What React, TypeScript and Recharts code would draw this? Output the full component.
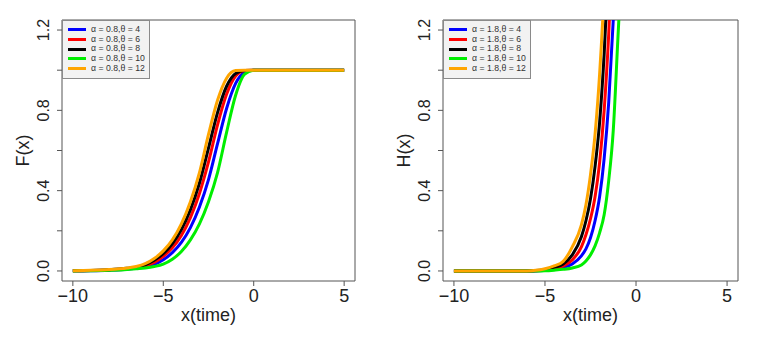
import React from "react";
import { LineChart, Line, XAxis, YAxis, ReferenceArea, Label } from "recharts";

// ---------- data ----------
const xLeft = [-10, -9, -8, -7, -6.5, -6, -5.5, -5, -4.5, -4, -3.5, -3, -2.5, -2, -1.5, -1, -0.5, 0, 1, 2, 3, 4, 5];
const fTheta4 = [0.0005, 0.0015, 0.004, 0.009, 0.014, 0.02, 0.033, 0.056, 0.091, 0.142, 0.216, 0.319, 0.455, 0.634, 0.809, 0.934, 0.989, 1, 1, 1, 1, 1, 1];
const fTheta6 = [0.0007, 0.002, 0.005, 0.011, 0.017, 0.026, 0.043, 0.073, 0.115, 0.177, 0.266, 0.386, 0.543, 0.728, 0.88, 0.971, 0.9985, 1, 1, 1, 1, 1, 1];
const fTheta8 = [0.001, 0.0025, 0.006, 0.013, 0.019, 0.031, 0.053, 0.086, 0.135, 0.206, 0.305, 0.438, 0.612, 0.789, 0.92, 0.984, 0.999, 1, 1, 1, 1, 1, 1];
const fTheta10 = [0.0003, 0.001, 0.003, 0.007, 0.011, 0.015, 0.022, 0.034, 0.058, 0.097, 0.155, 0.235, 0.345, 0.49, 0.69, 0.875, 0.98, 1, 1, 1, 1, 1, 1];
const fTheta12 = [0.001, 0.003, 0.007, 0.015, 0.022, 0.036, 0.062, 0.1, 0.155, 0.235, 0.345, 0.49, 0.68, 0.85, 0.96, 0.998, 1, 1, 1, 1, 1, 1, 1];

const xRight = [-10, -9, -8, -7, -6, -5.5, -5, -4.5, -4, -3.5, -3, -2.75, -2.5, -2.25, -2, -1.75, -1.5, -1.25, -1, -0.75];
const hTheta4 = [0, 0, 0, 0, 0, 0, 0.003, 0.008, 0.017, 0.035, 0.075, 0.11, 0.165, 0.25, 0.37, 0.56, 0.84, 1.25, 1.8, null];
const hTheta6 = [0, 0, 0, 0, 0, 0.001, 0.005, 0.012, 0.025, 0.055, 0.12, 0.18, 0.26, 0.37, 0.54, 0.8, 1.18, 1.7, null, null];
const hTheta8 = [0, 0, 0, 0, 0, 0.002, 0.008, 0.018, 0.035, 0.08, 0.17, 0.25, 0.36, 0.52, 0.74, 1.08, 1.55, null, null, null];
const hTheta10 = [0, 0, 0, 0, 0, 0, 0.001, 0.004, 0.008, 0.015, 0.03, 0.05, 0.08, 0.125, 0.19, 0.28, 0.45, 0.7, 1.15, 1.6];
const hTheta12 = [0, 0, 0, 0, 0, 0.003, 0.011, 0.025, 0.048, 0.12, 0.23, 0.33, 0.48, 0.68, 0.98, 1.4, 2.0, null, null, null];

const thetas = [4, 6, 8, 10, 12];
const colors = ["#0000ff", "#ff0000", "#000000", "#00ee00", "#ffa500"];
const xTicks = [-10, -5, 0, 5];
const yTicks = [0, 0.2, 0.4, 0.6, 0.8, 1.0, 1.2];
const yLabeled = [0, 0.4, 0.8, 1.2];
const xDomain = [-10.6, 5.6];
const yDomain = [-0.05, 1.25];

const leftSeries = [fTheta4, fTheta6, fTheta8, fTheta10, fTheta12];
const rightSeries = [hTheta4, hTheta6, hTheta8, hTheta10, hTheta12];

const buildRows = (xs: number[], series: (number | null)[][]) =>
  xs.map((x, i) => {
    const row: any = { x };
    series.forEach((s, k) => {
      row["t" + thetas[k]] = s[i];
    });
    return row;
  });

const leftData = buildRows(xLeft, leftSeries);
const rightData = buildRows(xRight, rightSeries);

const FONT = "'Liberation Sans', Arial, sans-serif";
const AXIS_GRAY = "#555555";

const fmtX = (v: number) => (v < 0 ? "\u2212" + Math.abs(v) : String(v));

const YTick = (props: any) => {
  const { x, y, payload } = props;
  const v = payload.value;
  if (!yLabeled.some((l) => Math.abs(l - v) < 1e-9)) return null;
  return (
    <text
      x={x}
      y={y}
      transform={`rotate(-90, ${x}, ${y})`}
      textAnchor="middle"
      fontSize={16}
      fill="#222"
      fontFamily={FONT}
    >
      {v.toFixed(1)}
    </text>
  );
};

const LegendBox = ({ alpha, left, top }: { alpha: string; left: number; top: number }) => (
  <div
    style={{
      position: "absolute",
      left,
      top,
      background: "#f2f2f2",
      border: "1px solid #8a8a8a",
      padding: "4px 4px 5px 5px",
      fontFamily: FONT,
      fontSize: 8.7,
      color: "#333",
      lineHeight: "9.7px",
    }}
  >
    {thetas.map((t, i) => (
      <div key={t} style={{ display: "flex", alignItems: "center", height: 9.7, whiteSpace: "nowrap" }}>
        <span style={{ display: "inline-block", width: 18, height: 3, background: colors[i], marginRight: 5 }} />
        <span>{`α = ${alpha},θ = ${t}`}</span>
      </div>
    ))}
  </div>
);

const Panel = ({
  data,
  yLabel,
  marginLeft,
  marginRight,
  width,
}: {
  data: any[];
  yLabel: string;
  marginLeft: number;
  marginRight: number;
  width: number;
}) => (
  <LineChart
    width={width}
    height={338}
    data={data}
    margin={{ top: 20, right: marginRight, bottom: 27, left: marginLeft }}
  >
    <XAxis
      dataKey="x"
      type="number"
      domain={xDomain}
      ticks={xTicks}
      allowDataOverflow
      axisLine={false}
      tickLine={{ stroke: AXIS_GRAY }}
      tickSize={5}
      tickMargin={3}
      height={30}
      tickFormatter={fmtX}
      tick={{ fontSize: 18, fill: "#222", fontFamily: FONT }}
    >
      <Label
        value="x(time)"
        position="bottom"
        offset={-3}
        style={{ fontSize: 18, fill: "#222", fontFamily: FONT }}
      />
    </XAxis>
    <YAxis
      type="number"
      domain={yDomain}
      ticks={yTicks}
      allowDataOverflow
      axisLine={false}
      tickLine={{ stroke: AXIS_GRAY }}
      tickSize={5}
      tickMargin={8}
      width={40}
      tick={<YTick />}
    >
      <Label
        value={yLabel}
        angle={-90}
        position="insideLeft"
        offset={1}
        style={{ fontSize: 18, fill: "#222", fontFamily: FONT, textAnchor: "middle" }}
      />
    </YAxis>
    {thetas.map((t, i) => (
      <Line
        key={t}
        dataKey={"t" + t}
        stroke={colors[i]}
        strokeWidth={3}
        dot={false}
        type="monotone"
        isAnimationActive={false}
        connectNulls={false}
      />
    ))}
    <ReferenceArea
      x1={xDomain[0]}
      x2={xDomain[1]}
      y1={yDomain[0]}
      y2={yDomain[1]}
      fill="none"
      fillOpacity={0}
      stroke={AXIS_GRAY}
      strokeWidth={1}
      ifOverflow="visible"
    />
  </LineChart>
);

export default function App() {
  return (
    <div
      style={{
        position: "fixed",
        left: 0,
        top: 0,
        width: 764,
        height: 338,
        background: "#ffffff",
        overflow: "hidden",
      }}
    >
      <div style={{ position: "absolute", left: 0, top: 0 }}>
        <Panel data={leftData} yLabel="F(x)" marginLeft={22} marginRight={25} width={380} />
      </div>
      <div style={{ position: "absolute", left: 380, top: 0 }}>
        <Panel data={rightData} yLabel="H(x)" marginLeft={23} marginRight={26} width={384} />
      </div>
      <LegendBox alpha="0.8" left={62} top={20} />
      <LegendBox alpha="1.8" left={443} top={20} />
    </div>
  );
}
